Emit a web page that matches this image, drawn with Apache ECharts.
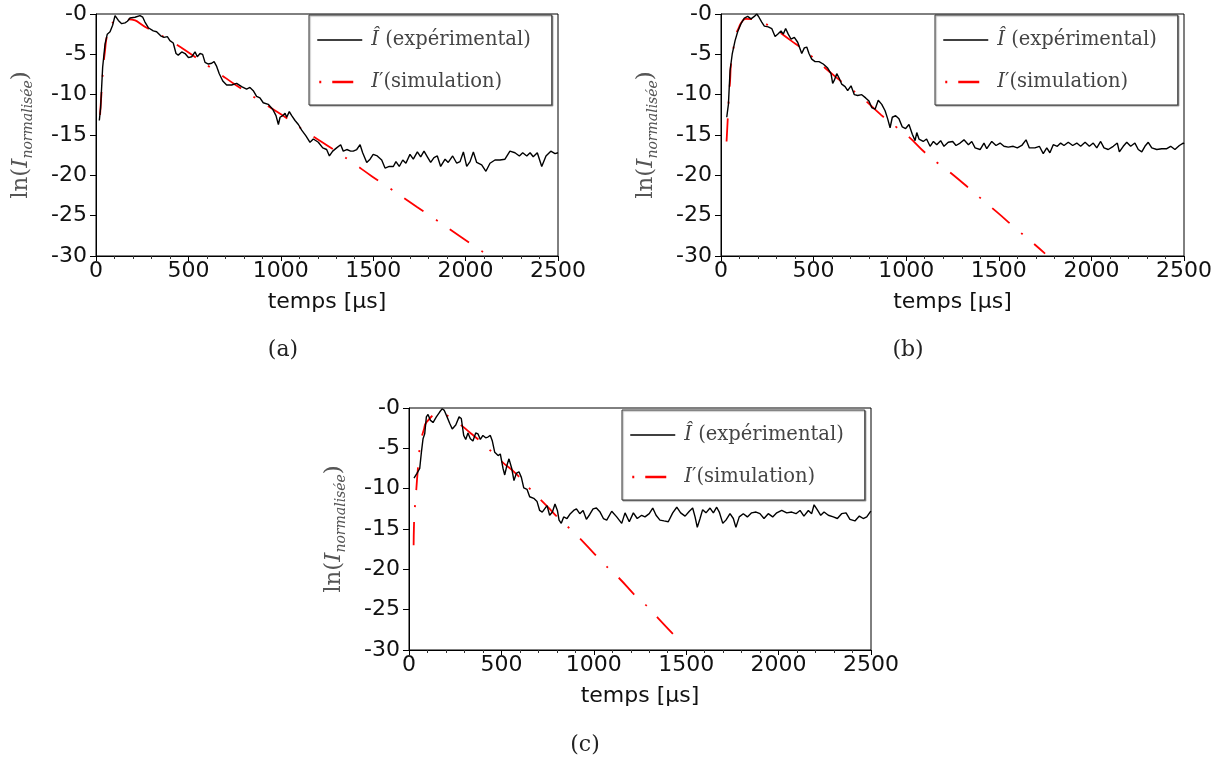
<!DOCTYPE html>
<html>
<head>
<meta charset="utf-8">
<script src="https://cdn.jsdelivr.net/npm/echarts@6/dist/echarts.min.js"></script>
<style>
html,body{margin:0;padding:0;background:#fff;}
#chart{width:1222px;height:761px;}
</style>
</head>
<body>
<div id="chart"></div>
<script>
// ---------- Data ----------
const xTicks = [0, 500, 1000, 1500, 2000, 2500];
const yTicks = [-30, -25, -20, -15, -10, -5, 0];
const panelLabels = ['(a)', '(b)', '(c)'];
const EXP = 'Î (expérimental)';
const SIM = 'I′(simulation)';

// (a) experimental
const expA_t = [18,25,36,49,61,76,90,103,112,121,139,157,170,184,211,238,253,265,283,310,328,337,350,368,386,400,418,433,445,464,482,500,518,536,548,563,577,590,608,626,639,653,667,686,707,734,761,788,815,833,851,869,887,905,932,956,974,987,996,1010,1023,1032,1046,1059,1077,1095,1113,1136,1158,1176,1203,1227,1248,1263,1281,1302,1324,1338,1357,1378,1392,1411,1429,1443,1465,1483,1500,1522,1546,1564,1587,1609,1623,1641,1660,1677,1699,1717,1739,1757,1775,1793,1811,1829,1847,1865,1889,1906,1930,1952,1970,1988,2006,2024,2042,2060,2087,2110,2132,2159,2186,2213,2240,2267,2291,2309,2331,2349,2366,2388,2412,2435,2461,2484,2500];
const expA_v = [-13.2,-11.6,-6.6,-3.7,-2.5,-2.2,-1.4,-0.2,0,-0.8,-1.2,-1.1,-0.9,-0.5,-0.4,-0.2,-0.4,-1.0,-1.7,-2.1,-2.2,-2.0,-2.7,-2.9,-2.8,-3.3,-3.6,-4.9,-5.1,-4.7,-4.9,-5.4,-5.3,-4.7,-5.3,-4.9,-5.0,-6.0,-6.2,-6.1,-5.9,-6.5,-7.4,-8.3,-8.8,-8.8,-8.6,-9.0,-9.3,-9.1,-9.5,-10.2,-10.4,-11.0,-11.2,-11.8,-12.6,-13.7,-12.8,-12.6,-12.3,-12.8,-12.1,-12.6,-13.2,-13.7,-14.4,-15.1,-15.9,-15.5,-15.9,-16.6,-16.8,-17.6,-17.0,-16.6,-16.2,-17.0,-16.8,-17.0,-17.0,-16.8,-16.2,-17.2,-18.4,-18.0,-17.4,-17.6,-18.1,-19.1,-18.9,-18.9,-18.3,-18.9,-18.1,-18.5,-17.4,-18.0,-17.1,-17.7,-17.0,-17.7,-18.4,-17.8,-17.6,-18.9,-18.0,-18.4,-17.6,-18.5,-18.3,-17.1,-18.9,-18.3,-17.1,-18.4,-18.7,-19.5,-18.5,-18.1,-18.1,-18.0,-17.0,-17.2,-17.6,-17.2,-17.6,-17.2,-17.7,-17.2,-18.9,-17.6,-17.0,-17.3,-17.2];
// (a) simulation
const simA_t = [22,34,40,49,58,75,103,175,274,415,509,662,756,902,1005,1143,1245,1317,1387,1492,1564,1735,1807,1979,2120];
const simA_v = [-12.5,-8.3,-6.4,-4.5,-2.9,-1.8,-0.9,-0.66,-1.7,-3.5,-4.9,-7.3,-8.8,-11.0,-12.5,-14.7,-16.2,-17.3,-18.4,-20.1,-21.2,-23.9,-25.0,-27.7,-29.9];

// (b) experimental
const expB_t = [31,40,49,61,76,90,108,126,144,162,180,193,205,220,234,255,274,292,306,324,336,349,363,378,396,414,436,450,463,475,490,508,529,552,576,594,603,612,625,637,652,670,684,702,720,738,760,781,799,814,832,849,868,886,900,913,925,943,961,979,997,1015,1033,1048,1057,1069,1092,1110,1129,1147,1165,1186,1204,1227,1251,1269,1291,1312,1336,1354,1372,1399,1420,1435,1462,1485,1507,1528,1551,1578,1600,1624,1647,1665,1695,1719,1740,1759,1776,1794,1816,1834,1852,1875,1899,1921,1942,1966,1989,2010,2029,2050,2068,2091,2118,2140,2151,2172,2191,2212,2235,2253,2272,2289,2307,2326,2353,2380,2407,2428,2451,2475,2496,2500];
const expB_v = [-12.8,-11.2,-7.0,-4.9,-3.3,-2.2,-1.2,-0.5,-0.3,-0.6,-0.3,0,-0.4,-1.0,-1.5,-1.6,-1.8,-2.8,-2.5,-2.1,-2.5,-1.8,-2.5,-3.1,-2.9,-3.5,-4.9,-4.2,-4.1,-4.9,-5.6,-5.9,-5.9,-6.2,-6.7,-7.4,-8.6,-8.2,-7.4,-7.9,-8.7,-9.0,-9.5,-8.9,-10.0,-10.1,-10.0,-10.4,-10.8,-11.6,-11.8,-10.7,-11.2,-12.0,-13.0,-14.1,-12.8,-12.6,-13.0,-14.0,-14.2,-13.7,-14.9,-15.7,-14.7,-15.5,-15.8,-15.5,-16.4,-15.8,-16.2,-15.7,-16.4,-15.9,-15.8,-16.3,-16.0,-15.6,-16.2,-15.8,-16.6,-16.8,-16.0,-16.7,-15.8,-16.3,-16.0,-16.4,-16.5,-16.4,-16.6,-16.3,-15.6,-16.6,-16.6,-16.4,-17.3,-16.6,-17.2,-16.2,-16.4,-16.0,-16.3,-15.9,-16.3,-16.0,-16.4,-15.9,-16.4,-16.0,-16.6,-15.8,-16.6,-16.8,-16.4,-16.0,-17.1,-16.4,-15.9,-16.4,-16.0,-16.8,-17.1,-16.4,-15.9,-16.6,-16.8,-16.7,-16.7,-16.4,-16.8,-16.3,-16.0,-16.1];
// (b) simulation
const simB_t = [30,36,43,49,54,66,79,94,112,133,205,277,378,450,517,619,691,763,864,940,1008,1107,1177,1246,1354,1420,1492,1597,1665,1750];
const simB_v = [-15.8,-13.2,-10.1,-8.3,-6.2,-4.4,-2.7,-1.8,-1.0,-0.6,-0.9,-1.7,-3.3,-4.5,-5.8,-7.8,-9.1,-10.4,-12.5,-13.9,-15.1,-17.3,-18.6,-19.8,-21.9,-23.2,-24.6,-26.7,-28.0,-29.7];

// (c) experimental
const expC_t = [27,43,58,67,76,85,94,103,115,130,148,166,179,191,206,220,234,253,271,283,296,307,319,332,346,361,373,386,400,415,427,440,451,464,482,494,509,518,530,541,556,568,581,595,608,621,639,653,675,693,707,721,734,747,761,776,790,803,812,824,837,855,873,891,906,924,942,960,978,996,1014,1034,1052,1070,1097,1124,1151,1169,1192,1214,1235,1259,1277,1300,1319,1337,1358,1380,1403,1427,1449,1470,1494,1517,1535,1548,1560,1575,1589,1607,1629,1647,1665,1679,1698,1715,1737,1755,1769,1787,1809,1831,1854,1878,1899,1921,1944,1968,1990,2017,2044,2071,2094,2116,2137,2161,2179,2192,2209,2228,2246,2269,2296,2318,2341,2365,2386,2413,2437,2458,2477,2495,2500];
const expC_v = [-8.7,-8.1,-7.5,-5.5,-3.8,-3.2,-1.1,-0.8,-1.5,-1.8,-1.1,-0.5,-0.1,-0.3,-1.1,-1.9,-2.6,-2.1,-1.1,-1.3,-3.4,-3.9,-3.1,-3.8,-4.1,-3.1,-3.2,-3.9,-3.4,-3.7,-3.6,-3.4,-4.1,-5.5,-5.9,-5.7,-7.5,-8.3,-7.1,-6.3,-7.5,-9.0,-8.1,-7.9,-8.6,-9.9,-10.1,-11.0,-11.2,-11.6,-12.7,-12.9,-12.5,-12.1,-13.3,-12.9,-11.9,-12.7,-13.9,-14.3,-13.5,-13.7,-13.1,-12.7,-12.5,-13.1,-12.7,-13.8,-13.2,-12.5,-12.4,-12.9,-13.7,-13.9,-12.8,-13.5,-14.3,-13.0,-14.1,-13.0,-13.7,-13.3,-13.5,-13.1,-12.4,-13.3,-13.9,-14.0,-14.1,-13.0,-12.3,-13.0,-13.4,-12.8,-12.4,-13.5,-14.8,-13.7,-12.6,-13.0,-12.4,-13.0,-12.3,-12.9,-14.3,-13.9,-13.1,-13.7,-14.8,-13.5,-13.1,-13.5,-13.0,-12.9,-13.1,-13.7,-13.1,-13.5,-13.0,-12.7,-13.0,-12.9,-13.1,-12.7,-13.4,-12.7,-13.1,-12.0,-12.6,-13.3,-12.9,-13.3,-13.5,-13.7,-13.1,-13.0,-13.8,-14.0,-13.4,-13.7,-13.5,-12.9,-12.8];
// (c) simulation
const simC_t = [25,27,30,36,43,49,54,67,79,97,162,260,332,400,505,577,649,752,815,891,992,1059,1133,1235,1304,1354,1457];
const simC_v = [-17.0,-14.5,-12.9,-11.2,-9.0,-7.3,-5.7,-3.8,-2.8,-1.7,-0.7,-1.8,-3.1,-4.4,-6.7,-8.1,-9.9,-12.3,-13.8,-15.4,-17.8,-19.4,-21.0,-23.5,-24.9,-26.2,-28.7];

// ---------- Build ----------
const zip = (t, v) => t.map((x, i) => [x, v[i]]);
const panels = [
  {exp: zip(expA_t, expA_v), sim: zip(simA_t, simA_v), grid: {left: 96, top: 14, width: 462, height: 242}, legend: {left: 309, top: 15}, cap: [283, 350]},
  {exp: zip(expB_t, expB_v), sim: zip(simB_t, simB_v), grid: {left: 721, top: 14, width: 463, height: 242}, legend: {left: 935, top: 15}, cap: [908, 350]},
  {exp: zip(expC_t, expC_v), sim: zip(simC_t, simC_v), grid: {left: 409, top: 408, width: 462, height: 242}, legend: {left: 622, top: 410}, cap: [585, 745]}
];

const SANS = 'DejaVu Sans';
const SERIF = 'DejaVu Serif';
const simDash = [23, 15, 2, 15];

const option = {
  backgroundColor: '#fff',
  animation: false,
  grid: [], xAxis: [], yAxis: [], series: [], legend: [], graphic: []
};

panels.forEach((p, k) => {
  option.grid.push(Object.assign({show: true, borderColor: '#000', borderWidth: 1, backgroundColor: 'transparent'}, p.grid));
  option.xAxis.push({
    type: 'value', gridIndex: k, min: xTicks[0], max: xTicks[xTicks.length - 1], interval: 500,
    name: 'temps [µs]', nameLocation: 'middle', nameGap: 35,
    nameTextStyle: {fontFamily: SANS, fontSize: 22, color: '#111'},
    axisLine: {show: true, onZero: false, lineStyle: {color: '#000', width: 1}},
    axisTick: {show: true, inside: false, length: 5, lineStyle: {color: '#000'}},
    minorTick: {show: true, splitNumber: 5, length: 3, lineStyle: {color: '#333'}},
    splitLine: {show: false},
    axisLabel: {fontFamily: SANS, fontSize: 22, color: '#111', margin: 4,
      formatter: v => String(v)}
  });
  option.yAxis.push({
    type: 'value', gridIndex: k, min: yTicks[0], max: yTicks[yTicks.length - 1], interval: 5,
    name: '{n|ln(}{i|I}{s|normalisée}{n|)}', nameLocation: 'middle', nameGap: 61, nameRotate: 90,
    nameTextStyle: {
      fontFamily: SERIF, fontSize: 23, color: '#555',
      rich: {
        n: {fontFamily: SERIF, fontSize: 23, color: '#555'},
        i: {fontFamily: SERIF, fontSize: 23, fontStyle: 'italic', color: '#555'},
        s: {fontFamily: SERIF, fontSize: 14, fontStyle: 'italic', color: '#555', padding: [13, 0, 0, 0]}
      }
    },
    axisLine: {show: true, onZero: false, lineStyle: {color: '#000', width: 1}},
    axisTick: {show: true, inside: false, length: 6, lineStyle: {color: '#000'}},
    splitLine: {show: false},
    axisLabel: {fontFamily: SANS, fontSize: 22, color: '#111', margin: 9,
      formatter: v => (v === 0 ? '-0' : String(v))}
  });
  option.series.push({
    name: EXP, type: 'line', xAxisIndex: k, yAxisIndex: k, data: p.exp,
    symbol: 'none', smooth: false, lineStyle: {color: '#000', width: 1.4}, itemStyle: {color: '#000'}, z: 3
  });
  option.series.push({
    name: SIM, type: 'line', xAxisIndex: k, yAxisIndex: k, data: p.sim,
    symbol: 'none', smooth: true, lineStyle: {color: '#ff0000', width: 1.8, type: simDash}, itemStyle: {color: '#ff0000'}, z: 2
  });
  option.legend.push({
    left: p.legend.left, top: p.legend.top, orient: 'vertical',
    data: [
      {name: EXP, lineStyle: {type: 'solid', width: 1.6}, itemStyle: {opacity: 0}},
      {name: SIM, lineStyle: {type: [0.01, 2, 2, 11, 21, 40], width: 2.5}, itemStyle: {opacity: 0}}
    ],
    itemStyle: {opacity: 0},
    itemWidth: 45, itemHeight: 14, itemGap: 18,
    padding: [13, 21, 11, 7],
    borderColor: '#333', borderWidth: 1, backgroundColor: '#fff',
    shadowColor: 'rgba(0,0,0,0.35)', shadowBlur: 1, shadowOffsetX: 1, shadowOffsetY: 1,
    selectedMode: false,
    textStyle: {
      fontFamily: SERIF, fontSize: 19.5, color: '#444', lineHeight: 24, padding: [0, 0, 0, 4],
      rich: {it: {fontFamily: SERIF, fontSize: 19.5, fontStyle: 'italic', color: '#444', lineHeight: 24}}
    },
    formatter: name => name === EXP ? '{it|Î} (expérimental)' : '{it|I}′(simulation)'
  });
  option.graphic.push({
    type: 'text', x: p.cap[0], y: p.cap[1],
    style: {text: panelLabels[k], font: '22px "DejaVu Serif"', fill: '#222', align: 'center', verticalAlign: 'middle'}
  });
});

const chart = echarts.init(document.getElementById('chart'), null, {renderer: 'canvas'});
chart.setOption(option);
</script>
</body>
</html>
